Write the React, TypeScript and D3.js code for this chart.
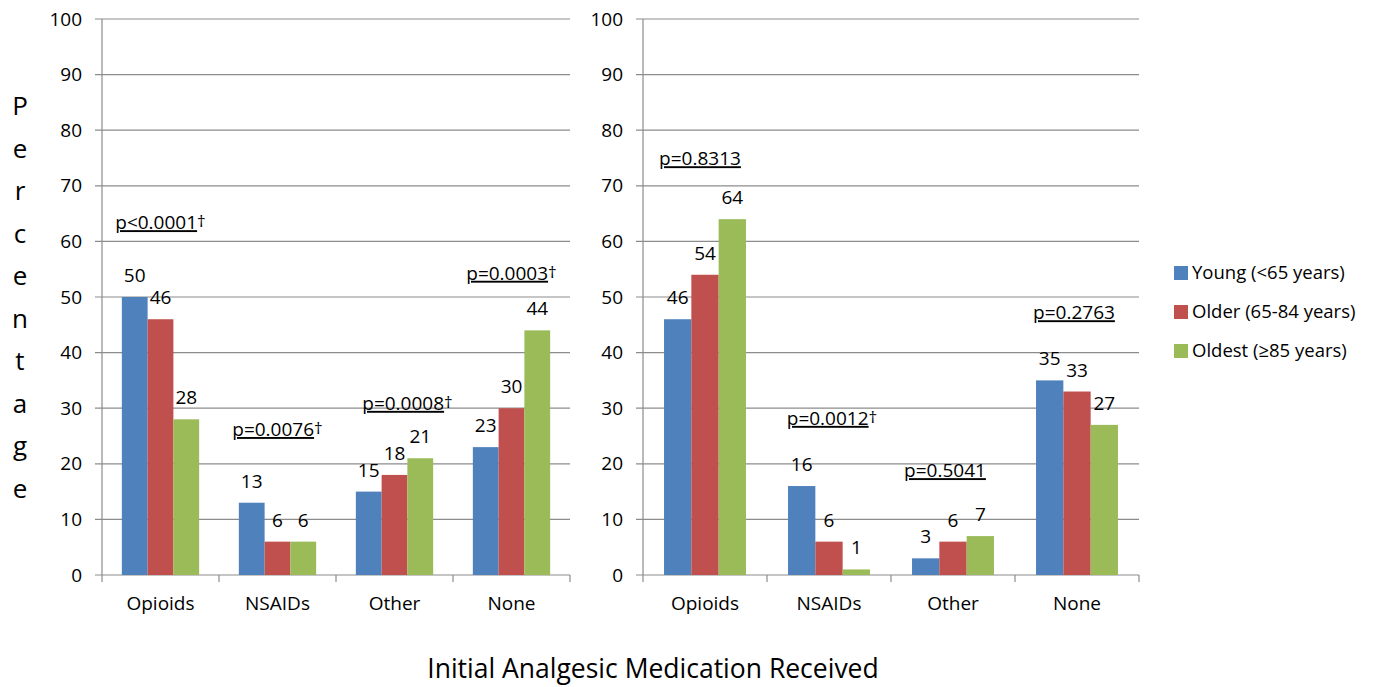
import { useEffect, useRef } from 'react'
import * as d3 from 'd3'

// categories and series
const categories = ['Opioids', 'NSAIDs', 'Other', 'None']
const groups = ['Young (<65 years)', 'Older (65-84 years)', 'Oldest (≥85 years)']
const colors = ['#4F81BD', '#C0504D', '#9BBB59']

const leftYoung = [50, 13, 15, 23]
const leftOlder = [46, 6, 18, 30]
const leftOldest = [28, 6, 21, 44]

const rightYoung = [46, 16, 3, 35]
const rightOlder = [54, 6, 6, 33]
const rightOldest = [64, 1, 7, 27]

// p-value annotations (anchored at a value on the y scale)
const leftP = ['p<0.0001', 'p=0.0076', 'p=0.0008', 'p=0.0003']
const leftDagger = [true, true, true, true]
const leftPAt = [62.2, 25.0, 29.7, 53.1]
const leftPShift = [0, 0, 13, 0]

const rightP = ['p=0.8313', 'p=0.0012', 'p=0.5041', 'p=0.2763']
const rightDagger = [false, true, false, false]
const rightPAt = [73.7, 27.0, 17.6, 46.0]
const rightPShift = [-5, 3, -8, -3]

const yTicks = [0, 10, 20, 30, 40, 50, 60, 70, 80, 90, 100]
const yLabel = 'Percentage'
const xTitle = 'Initial Analgesic Medication Received'

const FONT = '"Open Sans", "DejaVu Sans", sans-serif'
const GRID = '#8c8c8c'

export default function App() {
  const svgRef = useRef<SVGSVGElement>(null)

  useEffect(() => {
    if (!svgRef.current) return
    const svg = d3.select(svgRef.current)
    svg.selectAll('*').remove()

    const y = d3.scaleLinear().domain([0, 100]).range([575, 19])

    const panels = [
      { x0: 102, x1: 570, series: [leftYoung, leftOlder, leftOldest], p: leftP, dag: leftDagger, at: leftPAt, shift: leftPShift },
      { x0: 643, x1: 1139, series: [rightYoung, rightOlder, rightOldest], p: rightP, dag: rightDagger, at: rightPAt, shift: rightPShift },
    ]

    panels.forEach(panel => {
      const g = svg.append('g')
      const x = d3.scaleBand().domain(categories).range([panel.x0, panel.x1]).padding(0)
      const xs = d3.scaleBand().domain(groups).range([0, x.bandwidth()]).paddingInner(0).paddingOuter(0.77)

      // gridlines + y ticks
      g.selectAll('line.grid')
        .data(yTicks)
        .enter()
        .append('line')
        .attr('x1', panel.x0 - 7)
        .attr('x2', panel.x1)
        .attr('y1', d => y(d))
        .attr('y2', d => y(d))
        .attr('stroke', GRID)
        .attr('stroke-width', 1.2)

      g.selectAll('text.tick')
        .data(yTicks)
        .enter()
        .append('text')
        .attr('x', panel.x0 - 20)
        .attr('y', d => y(d))
        .attr('dy', '0.35em')
        .attr('text-anchor', 'end')
        .attr('font-family', FONT)
        .attr('font-size', 19)
        .attr('fill', '#000')
        .text(d => d)

      // y axis line
      g.append('line')
        .attr('x1', panel.x0).attr('x2', panel.x0)
        .attr('y1', y(100)).attr('y2', y(0))
        .attr('stroke', GRID).attr('stroke-width', 1.2)

      // x ticks at category boundaries
      const bounds = categories.map(c => x(c) as number).concat([panel.x1])
      g.selectAll('line.xt')
        .data(bounds)
        .enter()
        .append('line')
        .attr('x1', d => d).attr('x2', d => d)
        .attr('y1', y(0)).attr('y2', y(0) + 7)
        .attr('stroke', GRID).attr('stroke-width', 1.2)

      // bars + value labels
      panel.series.forEach((vals, si) => {
        g.selectAll(`rect.s${si}`)
          .data(vals)
          .enter()
          .append('rect')
          .attr('x', (_, i) => (x(categories[i]) as number) + (xs(groups[si]) as number))
          .attr('y', d => y(d))
          .attr('width', xs.bandwidth())
          .attr('height', d => y(0) - y(d))
          .attr('fill', colors[si])

        g.selectAll(`text.v${si}`)
          .data(vals)
          .enter()
          .append('text')
          .attr('x', (_, i) => (x(categories[i]) as number) + (xs(groups[si]) as number) + xs.bandwidth() / 2)
          .attr('y', d => y(d) - 15)
          .attr('text-anchor', 'middle')
          .attr('font-family', FONT)
          .attr('font-size', 19)
          .attr('fill', '#000')
          .text(d => d)
      })

      // category labels
      g.selectAll('text.cat')
        .data(categories)
        .enter()
        .append('text')
        .attr('x', d => (x(d) as number) + x.bandwidth() / 2)
        .attr('y', 610)
        .attr('text-anchor', 'middle')
        .attr('font-family', FONT)
        .attr('font-size', 19)
        .attr('fill', '#000')
        .text(d => d)

      // p-value annotations
      categories.forEach((c, i) => {
        const t = g.append('text')
          .attr('x', (x(c) as number) + x.bandwidth() / 2 + panel.shift[i])
          .attr('y', y(panel.at[i]))
          .attr('text-anchor', 'middle')
          .attr('font-family', FONT)
          .attr('font-size', 19)
          .attr('fill', '#000')
        t.append('tspan')
          .attr('text-decoration', 'underline')
          .text(panel.p[i])
        if (panel.dag[i]) {
          t.append('tspan')
            .attr('font-size', 17)
            .attr('dy', -2)
            .text('†')
        }
      })
    })

    // y axis title, stacked letters
    svg.selectAll('text.ylab')
      .data(yLabel.split(''))
      .enter()
      .append('text')
      .attr('x', 20)
      .attr('y', (_, i) => 115 + i * 42.5)
      .attr('text-anchor', 'middle')
      .attr('font-family', FONT)
      .attr('font-size', 26)
      .attr('fill', '#000')
      .text(d => d)

    // x axis title
    svg.append('text')
      .attr('x', 653)
      .attr('y', 678)
      .attr('text-anchor', 'middle')
      .attr('font-family', FONT)
      .attr('font-size', 26.5)
      .attr('fill', '#000')
      .text(xTitle)

    // legend
    const legend = svg.append('g')
    groups.forEach((name, i) => {
      const cy = 273 + i * 39
      legend.append('rect')
        .attr('x', 1174).attr('y', cy - 7)
        .attr('width', 14).attr('height', 14)
        .attr('fill', colors[i])
      legend.append('text')
        .attr('x', 1192).attr('y', cy)
        .attr('dy', '0.35em')
        .attr('font-family', FONT)
        .attr('font-size', 18.5)
        .attr('fill', '#000')
        .text(name)
    })
  }, [])

  return (
    <svg
      ref={svgRef}
      width={1376}
      height={687}
      style={{ position: 'absolute', left: 0, top: 0, background: '#fff', display: 'block' }}
    />
  )
}
